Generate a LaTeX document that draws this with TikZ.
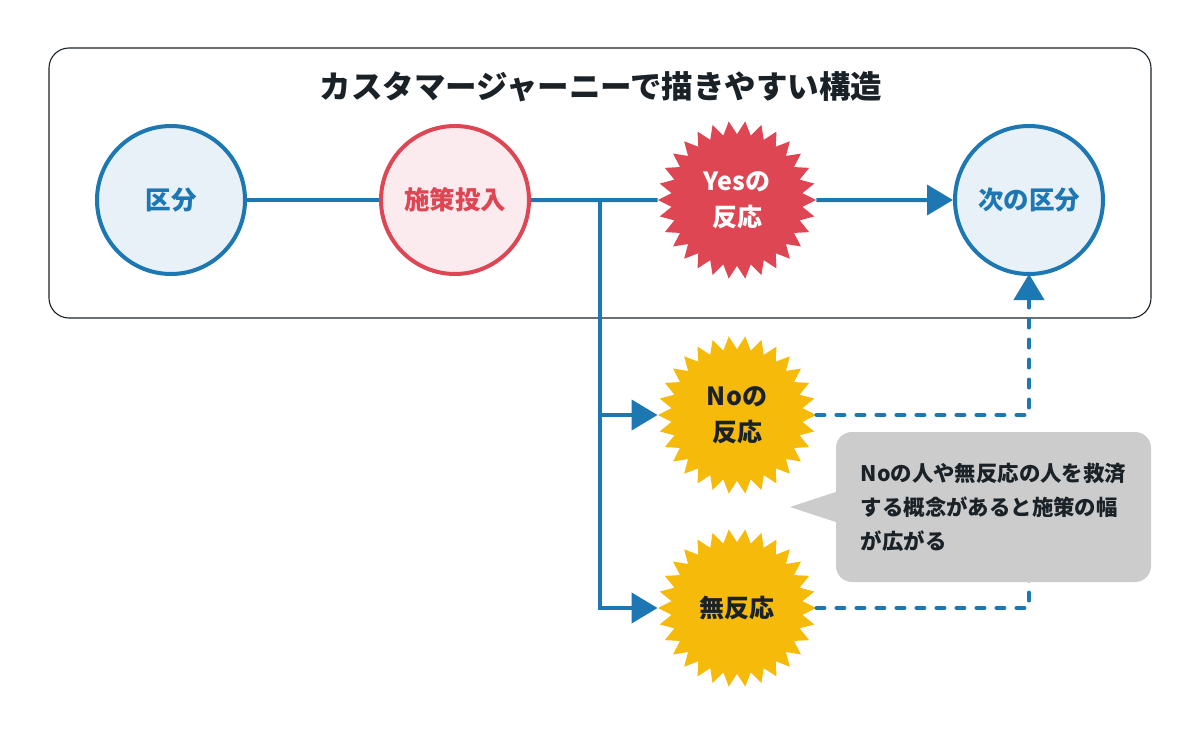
\documentclass[tikz,border=0pt]{standalone}
\usepackage{fontspec}
\setmainfont{Noto Sans CJK JP}
\usetikzlibrary{arrows.meta,shapes.geometric,calc}
\definecolor{cblue}{HTML}{1C77B2}
\definecolor{cbluefill}{HTML}{E8F1F8}
\definecolor{cred}{HTML}{DE4653}
\definecolor{credfill}{HTML}{FCEBEE}
\definecolor{cyellow}{HTML}{F6BA0A}
\definecolor{cdark}{HTML}{1A2228}
\definecolor{cgray}{HTML}{CCCCCC}
\begin{document}
\begin{tikzpicture}[x=1pt,y=-1pt,
  circ/.style={circle, line width=4pt, minimum size=148pt, inner sep=0pt, font=\bfseries\fontsize{25.5}{30}\selectfont},
  bluecirc/.style={circ, draw=cblue, fill=cbluefill, text=cblue},
  redcirc/.style={circ, draw=cred, fill=credfill, text=cred},
  burst/.style={star, star points=30, star point ratio=1.2, shape border rotate=6, minimum size=158pt, inner sep=0pt, align=center, font=\bfseries\fontsize{25}{36}\selectfont},
  flow/.style={draw=cblue, line width=4pt},
  tipped/.style={-{Triangle[length=26pt,width=30pt]}},
  dashflow/.style={draw=cblue, line width=4pt, line cap=round, dash pattern=on 8pt off 12pt}
]
\useasboundingbox[fill=white] (0,0) rectangle (1200,736);
\draw[line width=1.1pt, draw=cdark, rounded corners=20pt] (49,48) rectangle (1151,318);
\node[font=\bfseries\fontsize{31.5}{36}\selectfont, text=cdark] (title) at (601,87) {カスタマージャーニーで描きやすい構造};

\node[bluecirc] (kubun) at (171,200) {区分};
\node[redcirc] (shisaku) at (455,200) {施策投入};
\node[burst, fill=cred, text=white] (yes) at (737,200) {Yesの\\反応};
\node[bluecirc] (next) at (1029,200) {次の区分};
\node[burst, fill=cyellow, text=cdark] (no) at (737,415) {Noの\\反応};
\node[burst, fill=cyellow, text=cdark] (mu) at (737,608) {無反応};

\coordinate (j) at (600,200);
\coordinate (m) at (1029,445);

\draw[flow] (kubun.east) -- (shisaku.west);
\draw[flow] (shisaku.east) -- (yes.west);
\draw[flow, tipped] (yes.east) -- (next.west);
\draw[flow, tipped] (j) |- (mu.west);
\draw[flow, tipped] (j |- no.west) -- (no.west);

\draw[dashflow, tipped] (no.east) -| ([yshift=2pt]next.south);
\draw[dashflow] (mu.east) -| (m);

\node[fill=cgray, rounded corners=16pt, minimum width=315pt, minimum height=150pt, inner sep=0pt, align=left, text=cdark, font=\bfseries\fontsize{21.4}{34}\selectfont] (note) at (993.5,507) {Noの人や無反応の人を救済\\する概念があると施策の幅\\が広がる};
\coordinate (ptip) at (790,507);
\fill[cgray] ([yshift=-15pt]note.west) -- (ptip) -- ([yshift=15pt]note.west) -- cycle;
\end{tikzpicture}
\end{document}
